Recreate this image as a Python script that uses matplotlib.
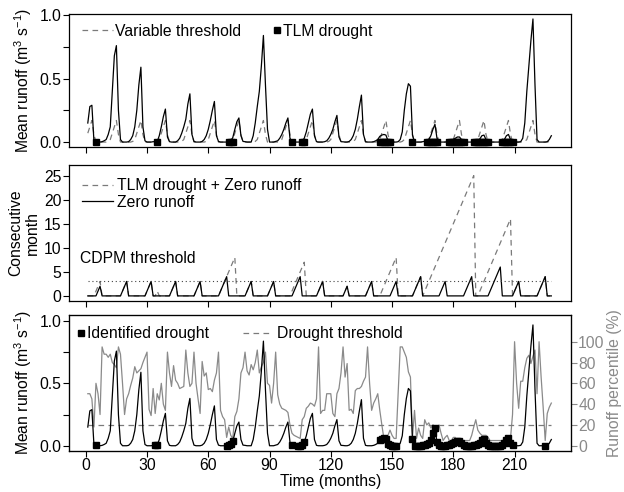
import numpy as np
import matplotlib
matplotlib.use('Agg')
import matplotlib.pyplot as plt
from matplotlib.lines import Line2D

plt.rcParams['font.family'] = ['Liberation Sans', 'DejaVu Sans']
plt.rcParams['font.size'] = 11.3
plt.rcParams['mathtext.fontset'] = 'custom'
plt.rcParams['mathtext.rm'] = 'Liberation Sans'
plt.rcParams['mathtext.it'] = 'Liberation Sans:italic'
plt.rcParams['mathtext.default'] = 'regular'

# ---------------- data ----------------
months = np.arange(1, 229)

runoff = np.array([
    0.15, 0.28, 0.29, 0.01, 0.003, 0.0, 0.0, 0.003, 0.01, 0.02, 0.06, 0.12,
    0.40, 0.68, 0.76, 0.25, 0.02, 0.0, 0.0, 0.0, 0.003, 0.02, 0.05, 0.12,
    0.25, 0.45, 0.59, 0.12, 0.01, 0.0, 0.0, 0.0, 0.003, 0.002, 0.005, 0.05,
    0.12, 0.20, 0.26, 0.04, 0.003, 0.0, 0.0, 0.0, 0.01, 0.03, 0.07, 0.12,
    0.18, 0.30, 0.38, 0.06, 0.005, 0.0, 0.0, 0.0, 0.005, 0.02, 0.05, 0.10,
    0.17, 0.25, 0.32, 0.05, 0.005, 0.0, 0.0, 0.0, 0.0, 0.005, 0.01, 0.035,
    0.10, 0.16, 0.19, 0.05, 0.005, 0.003, 0.0, 0.0, 0.0, 0.05, 0.15, 0.28,
    0.40, 0.60, 0.84, 0.45, 0.10, 0.0, 0.0, 0.0, 0.005, 0.01, 0.03, 0.06,
    0.10, 0.15, 0.19, 0.03, 0.003, 0.0, 0.0, 0.0, 0.0, 0.005, 0.03, 0.08,
    0.15, 0.22, 0.26, 0.05, 0.003, 0.0, 0.0, 0.0, 0.003, 0.01, 0.03, 0.06,
    0.10, 0.16, 0.21, 0.04, 0.003, 0.002, 0.0, 0.0, 0.005, 0.02, 0.05, 0.10,
    0.18, 0.28, 0.37, 0.06, 0.003, 0.0, 0.0, 0.0, 0.003, 0.01, 0.02, 0.045,
    0.055, 0.06, 0.055, 0.01, 0.002, 0.0, 0.0, 0.0, 0.003, 0.02, 0.08, 0.25,
    0.38, 0.46, 0.44, 0.055, 0.0, 0.0, 0.0, 0.0, 0.003, 0.006, 0.01, 0.02,
    0.05, 0.10, 0.14, 0.03, 0.003, 0.0, 0.0, 0.0, 0.003, 0.006, 0.01, 0.02,
    0.03, 0.04, 0.04, 0.02, 0.003, 0.0, 0.0, 0.0, 0.0, 0.003, 0.006, 0.01,
    0.025, 0.05, 0.055, 0.02, 0.003, 0.0, 0.0, 0.0, 0.0, 0.0, 0.0, 0.005,
    0.02, 0.05, 0.06, 0.02, 0.003, 0.0, 0.0, 0.0, 0.003, 0.03, 0.15, 0.40,
    0.60, 0.80, 0.97, 0.45, 0.02, 0.0, 0.0, 0.0, 0.0, 0.003, 0.02, 0.05,
])

# monthly (calendar-month) variable threshold, repeated every year
threshold_by_month = [0.07, 0.12, 0.17, 0.06, 0.0, 0.0, 0.0, 0.0, 0.0, 0.0, 0.005, 0.02]
variable_threshold = np.tile(threshold_by_month, 19)

tlm_drought_months = np.r_[5, 35, 70:73, 101, 106, 107, 144:150, 160,
                           167:173, 178:186, 190:198, 204:210]

zero_runoff_count = np.array([
    0, 0, 0, 0, 0, 1, 2, 0, 0, 0, 0, 0,
    0, 0, 0, 0, 0, 1, 2, 3, 0, 0, 0, 0,
    0, 0, 0, 0, 0, 1, 2, 3, 0, 0, 0, 0,
    0, 0, 0, 0, 0, 1, 2, 3, 0, 0, 0, 0,
    0, 0, 0, 0, 0, 1, 2, 3, 0, 0, 0, 0,
    0, 0, 0, 0, 0, 1, 2, 3, 4, 0, 0, 0,
    0, 0, 0, 0, 0, 0, 1, 2, 3, 0, 0, 0,
    0, 0, 0, 0, 0, 1, 2, 3, 0, 0, 0, 0,
    0, 0, 0, 0, 0, 1, 2, 3, 4, 0, 0, 0,
    0, 0, 0, 0, 0, 1, 2, 3, 0, 0, 0, 0,
    0, 0, 0, 0, 0, 0, 1, 2, 0, 0, 0, 0,
    0, 0, 0, 0, 0, 1, 2, 3, 0, 0, 0, 0,
    0, 0, 0, 0, 0, 1, 2, 3, 0, 0, 0, 0,
    0, 0, 0, 0, 1, 2, 3, 4, 0, 0, 0, 0,
    0, 0, 0, 0, 0, 1, 2, 3, 0, 0, 0, 0,
    0, 0, 0, 0, 0, 1, 2, 3, 4, 0, 0, 0,
    0, 0, 0, 0, 0, 1, 2, 3, 4, 5, 6, 0,
    0, 0, 0, 0, 0, 1, 2, 3, 0, 0, 0, 0,
    0, 0, 0, 0, 0, 1, 2, 3, 4, 0, 0, 0,
])

tlm_zero_count = np.array([
    0, 0, 0, 0, 1, 2, 3, 0, 0, 0, 0, 0,
    0, 0, 0, 0, 0, 1, 2, 3, 0, 0, 0, 0,
    0, 0, 0, 0, 0, 1, 2, 3, 0, 0, 1, 0,
    0, 0, 0, 0, 0, 1, 2, 3, 0, 0, 0, 0,
    0, 0, 0, 0, 0, 1, 2, 3, 0, 0, 0, 0,
    0, 0, 0, 0, 0, 1, 2, 3, 4, 5, 6, 7,
    8, 0, 0, 0, 0, 0, 1, 2, 3, 0, 0, 0,
    0, 0, 0, 0, 0, 1, 2, 3, 0, 0, 0, 0,
    0, 0, 0, 0, 1, 2, 3, 4, 5, 6, 7, 0,
    0, 0, 0, 0, 0, 1, 2, 3, 0, 0, 0, 0,
    0, 0, 0, 0, 0, 0, 1, 2, 0, 0, 0, 0,
    0, 0, 0, 0, 0, 1, 2, 3, 0, 0, 0, 0,
    1, 2, 3, 4, 5, 6, 7, 8, 0, 0, 0, 0,
    0, 0, 0, 0, 1, 2, 3, 4, 0, 1, 2, 3,
    4, 5, 6, 7, 8, 9, 10, 11, 12, 13, 14, 15,
    16, 17, 18, 19, 20, 21, 22, 23, 24, 25, 0, 0,
    1, 2, 3, 4, 5, 6, 7, 8, 9, 10, 11, 12,
    13, 14, 15, 16, 0, 1, 2, 3, 0, 0, 0, 0,
    0, 0, 0, 0, 0, 1, 2, 3, 4, 0, 0, 0,
])

cdpm_threshold = 3

runoff_percentile = np.array([
    50, 50, 45, 18, 60, 50, 30, 95, 88, 88, 85, 88,
    80, 78, 75, 95, 88, 60, 30, 45, 50, 58, 65, 76,
    70, 72, 74, 80, 85, 90, 35, 29, 55, 31, 50, 44,
    60, 40, 34, 90, 70, 57, 77, 63, 60, 55, 56, 57,
    92, 70, 57, 60, 90, 60, 45, 31, 81, 67, 70, 54,
    55, 52, 63, 70, 90, 34, 28, 25, 8, 18, 10, 7,
    28, 33, 45, 70, 75, 90, 72, 68, 78, 73, 80, 92,
    70, 76, 80, 90, 60, 58, 41, 60, 90, 49, 40, 36,
    35, 34, 32, 20, 12, 10, 9, 8, 7, 25, 28, 36,
    38, 41, 40, 38, 45, 95, 31, 34, 34, 50, 50, 50,
    31, 28, 50, 55, 70, 95, 66, 79, 34, 35, 31, 53,
    55, 55, 57, 62, 66, 95, 60, 34, 41, 45, 50, 34,
    20, 7, 7, 10, 15, 10, 7, 7, 50, 95, 95, 90,
    85, 71, 66, 8, 34, 7, 17, 10, 7, 25, 20, 22,
    17, 20, 18, 13, 20, 12, 5, 8, 10, 5, 5, 8,
    8, 5, 5, 5, 5, 5, 5, 5, 10, 18, 25, 15,
    12, 10, 10, 10, 8, 5, 5, 5, 5, 5, 5, 5,
    5, 7, 7, 7, 30, 100, 60, 36, 62, 62, 75, 84,
    87, 79, 86, 92, 50, 100, 66, 37, 5, 31, 37, 41,
])

drought_threshold_pct = 20
identified_drought_months = np.r_[5, 34, 35, 69:73, 101, 104:108, 144:153, 160:210, 225]

x_ticks = [0, 30, 60, 90, 120, 150, 180, 210]

# ---------------- styling ----------------
GREY_DASH = '#7a7a7a'
GREY_LINE = '#8a8a8a'
DASH = (4.5, 3.5)
LW = 0.9
MS = 4.2
FS = 11.3

fig = plt.figure(figsize=(6.24, 4.92), dpi=100)
L, W = 0.1106, 0.8037
ax1 = fig.add_axes([L, 0.7012, W, 0.2703])
ax2 = fig.add_axes([L, 0.3888, W, 0.2758])
ax3 = fig.add_axes([L, 0.0839, W, 0.2759])

XLIM = (-8.2, 237.4)

def style(ax):
    ax.set_xlim(*XLIM)
    ax.set_xticks(x_ticks)
    ax.tick_params(direction='out', length=4, width=0.8, pad=1.5, labelsize=FS)
    for s in ax.spines.values():
        s.set_linewidth(0.9)

# ---- panel 1 ----
ax1.plot(months, variable_threshold, color=GREY_DASH, lw=LW, dashes=DASH)
ax1.plot(months, runoff, color='k', lw=LW)
ax1.plot(tlm_drought_months, np.zeros(len(tlm_drought_months)), 's', color='k', ms=MS)
style(ax1)
ax1.set_xticklabels([])
ax1.set_ylim(-0.039, 1.009)
ax1.set_yticks([0, 0.25, 0.5, 0.75, 1.0])
ax1.set_yticklabels(['0.0', '', '0.5', '', '1.0'])
ax1.set_ylabel('Mean runoff (m$^3$ s$^{-1}$)')
ax1.yaxis.set_label_coords(-0.07, 0.5)
lg = ax1.legend([Line2D([], [], color=GREY_DASH, lw=LW, dashes=DASH)], ['Variable threshold'],
                loc='center left', bbox_to_anchor=(0.026, 0.872), frameon=False,
                handlelength=1.97, handletextpad=0.13, borderpad=0, borderaxespad=0)
ax1.add_artist(lg)
ax1.legend([Line2D([], [], color='k', marker='s', ls='none', ms=MS)], ['TLM drought'],
           loc='center left', bbox_to_anchor=(0.405, 0.872), frameon=False,
           handlelength=0.6, handletextpad=0.1, borderpad=0, borderaxespad=0)

# ---- panel 2 ----
ax2.plot(months, tlm_zero_count, color=GREY_DASH, lw=LW, dashes=DASH)
ax2.plot(months, zero_runoff_count, color='k', lw=LW)
ax2.hlines(cdpm_threshold, months[0], months[-1], colors='#444444', lw=0.8,
           linestyles=(0, (1, 2.5)))
style(ax2)
ax2.set_xticklabels([])
ax2.set_ylim(-1.0, 27.2)
ax2.set_yticks([0, 5, 10, 15, 20, 25])
ax2.set_ylabel('Consecutive\nmonth', linespacing=1.1)
ax2.yaxis.set_label_coords(-0.058, 0.5)
ax2.text(0.022, 0.311, 'CDPM threshold', transform=ax2.transAxes, ha='left', va='center')
ax2.legend([Line2D([], [], color=GREY_DASH, lw=LW, dashes=DASH),
            Line2D([], [], color='k', lw=LW)],
           ['TLM drought + Zero runoff', 'Zero runoff'],
           loc='center left', bbox_to_anchor=(0.026, 0.786), frameon=False,
           handlelength=1.97, handletextpad=0.24, borderpad=0, borderaxespad=0,
           labelspacing=0.1)

# ---- panel 3 ----
tw = ax3.twinx()
tw.plot(months, runoff_percentile, color=GREY_LINE, lw=LW)
tw.hlines(drought_threshold_pct, months[0], months[-1], colors=GREY_DASH, lw=LW,
          linestyles=(0, DASH))
tw.set_ylim(-4.8, 125.7)
tw.set_yticks([0, 20, 40, 60, 80, 100])
tw.tick_params(axis='y', direction='out', length=4, width=0.8, pad=1.5,
               colors=GREY_LINE, labelsize=FS)
tw.spines['right'].set_color('k')
tw.set_ylabel('Runoff percentile (%)', color=GREY_LINE)
tw.yaxis.set_label_coords(1.072, 0.5)

ax3.set_zorder(tw.get_zorder() + 1)
ax3.patch.set_visible(False)
ax3.plot(months, runoff, color='k', lw=LW)
ax3.plot(identified_drought_months, runoff[identified_drought_months - 1], 's',
         color='k', ms=MS)
style(ax3)
ax3.set_ylim(-0.04, 1.05)
ax3.set_yticks([0, 0.25, 0.5, 0.75, 1.0])
ax3.set_yticklabels(['0.0', '', '0.5', '', '1.0'])
ax3.set_ylabel('Mean runoff (m$^3$ s$^{-1}$)')
ax3.yaxis.set_label_coords(-0.07, 0.5)
ax3.set_xlabel('Time (months)')
ax3.xaxis.set_label_coords(0.522, -0.17)
lg3 = ax3.legend([Line2D([], [], color='k', marker='s', ls='none', ms=MS)], ['Identified drought'],
                 loc='center left', bbox_to_anchor=(0.0146, 0.86), frameon=False,
                 handlelength=0.6, handletextpad=0.1, borderpad=0, borderaxespad=0)
ax3.add_artist(lg3)
ax3.legend([Line2D([], [], color=GREY_DASH, lw=LW, dashes=DASH)], ['Drought threshold'],
           loc='center left', bbox_to_anchor=(0.347, 0.86), frameon=False,
           handlelength=1.85, handletextpad=0.3, borderpad=0, borderaxespad=0)

fig.savefig('out.png', dpi=100)
